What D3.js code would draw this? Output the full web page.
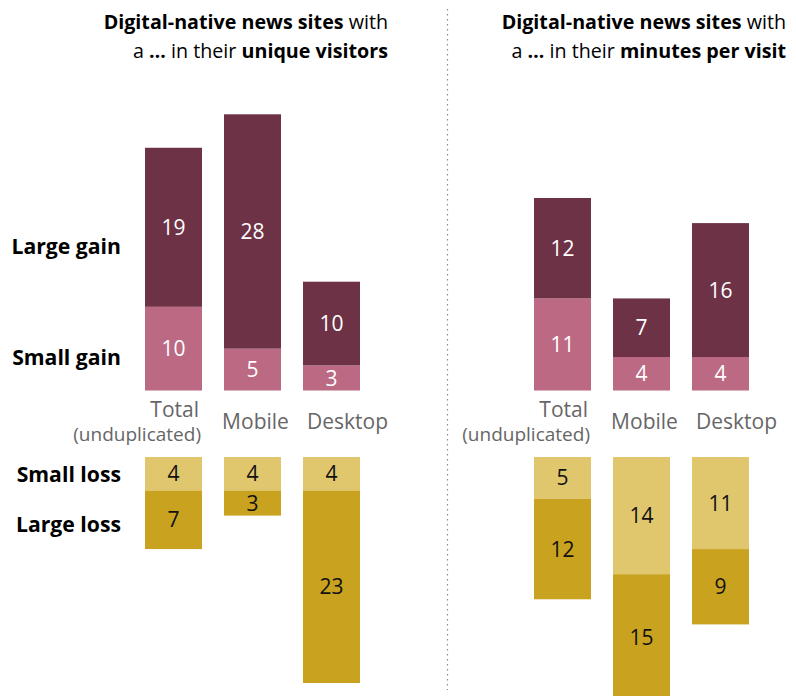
<!DOCTYPE html>
<html><head><meta charset="utf-8">
<script src="https://cdn.jsdelivr.net/npm/d3@7/dist/d3.min.js"></script>
<style>body{margin:0;background:#fff;} svg{display:block;font-family:"Open Sans","Liberation Sans",sans-serif;}</style>
</head><body><div id="chart"></div>
<script>
const categories = ["Total", "Mobile", "Desktop"];
const visitorsLargeGain = [19, 28, 10];
const visitorsSmallGain = [10, 5, 3];
const visitorsSmallLoss = [4, 4, 4];
const visitorsLargeLoss = [7, 3, 23];
const minutesLargeGain = [12, 7, 16];
const minutesSmallGain = [11, 4, 4];
const minutesSmallLoss = [5, 14, 11];
const minutesLargeLoss = [12, 15, 9];
const rowLabels = ["Large gain", "Small gain", "Small loss", "Large loss"];

const W = 796, H = 696;
const colors = {lg: "#6d3245", sg: "#bc6983", sl: "#e0c76e", ll: "#c9a31f"};
const svg = d3.select("#chart").append("svg").attr("width", W).attr("height", H);

const h = d3.scaleLinear().domain([0, 1]).range([0, 8.37]);
const gainBase = 390.5, lossTop = 457;

const panels = [
  {x0: 145, title2: "unique visitors", tx: 388, lg: visitorsLargeGain, sg: visitorsSmallGain, sl: visitorsSmallLoss, ll: visitorsLargeLoss},
  {x0: 534, title2: "minutes per visit", tx: 786, lg: minutesLargeGain, sg: minutesSmallGain, sl: minutesSmallLoss, ll: minutesLargeLoss}
];

panels.forEach(p => {
  const x = d3.scaleBand().domain(categories).range([p.x0, p.x0 + 215]).paddingInner(22 / 79).paddingOuter(0);
  const g = svg.append("g");
  const t = g.append("text").attr("text-anchor", "end").attr("font-size", 19.7).attr("fill", "#000");
  const l1 = t.append("tspan").attr("x", p.tx).attr("y", 29);
  l1.append("tspan").attr("font-weight", 700).text("Digital-native news sites");
  l1.append("tspan").text(" with");
  const l2 = t.append("tspan").attr("x", p.tx).attr("y", 58);
  l2.append("tspan").text("a ");
  l2.append("tspan").attr("font-weight", 700).text("…");
  l2.append("tspan").text(" in their ");
  l2.append("tspan").attr("font-weight", 700).text(p.title2);

  categories.forEach((c, i) => {
    const bx = x(c), bw = x.bandwidth(), mx = bx + bw / 2;
    const segs = [
      {y: gainBase - h(p.sg[i]), hh: h(p.sg[i]), col: colors.sg, v: p.sg[i], tc: "#fff"},
      {y: gainBase - h(p.sg[i]) - h(p.lg[i]), hh: h(p.lg[i]), col: colors.lg, v: p.lg[i], tc: "#fff"},
      {y: lossTop, hh: h(p.sl[i]), col: colors.sl, v: p.sl[i], tc: "#111"},
      {y: lossTop + h(p.sl[i]), hh: h(p.ll[i]), col: colors.ll, v: p.ll[i], tc: "#111"}
    ];
    segs.forEach(s => {
      g.append("rect").attr("x", bx).attr("y", s.y).attr("width", bw).attr("height", s.hh).attr("fill", s.col);
      g.append("text").attr("x", mx).attr("y", s.y + s.hh / 2).attr("dy", "0.36em")
        .attr("text-anchor", "middle").attr("font-size", 21).attr("fill", s.tc).text(s.v);
    });
    if (c === "Total") {
      g.append("text").attr("x", bx + bw - 3).attr("y", 417).attr("text-anchor", "end")
        .attr("font-size", 21).attr("fill", "#666").text("Total");
      g.append("text").attr("x", bx + bw - 1).attr("y", 441).attr("text-anchor", "end")
        .attr("font-size", 19).attr("fill", "#666").text("(unduplicated)");
    } else if (c === "Mobile") {
      g.append("text").attr("x", mx + 3).attr("y", 429).attr("text-anchor", "middle")
        .attr("font-size", 21).attr("fill", "#666").text(c);
    } else {
      g.append("text").attr("x", bx + 4).attr("y", 429).attr("text-anchor", "start")
        .attr("font-size", 21).attr("fill", "#666").text(c);
    }
  });
});

const rowY = [254, 365, 482, 532];
rowLabels.forEach((r, i) => {
  svg.append("text").attr("x", 121).attr("y", rowY[i]).attr("text-anchor", "end")
    .attr("font-size", 21.2).attr("font-weight", 700).attr("fill", "#000").text(r);
});

svg.append("line").attr("x1", 447.5).attr("x2", 447.5).attr("y1", 9).attr("y2", 690)
  .attr("stroke", "#888").attr("stroke-width", 1.2).attr("stroke-dasharray", "1.5,3.5");
</script></body></html>
